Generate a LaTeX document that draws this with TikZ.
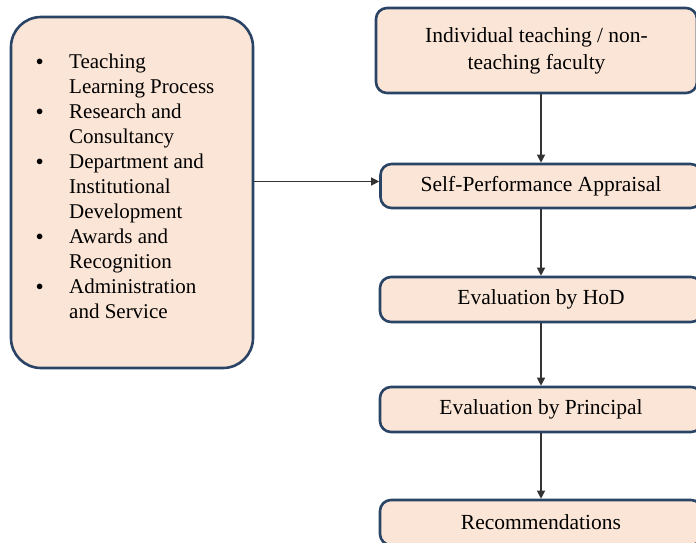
\documentclass[tikz,border=0pt]{standalone}
\usepackage{fontspec}
\setmainfont{Liberation Serif}
\usepackage{tikz}
\usetikzlibrary{arrows,arrows.meta}

\definecolor{boxfill}{RGB}{251,229,214}
\definecolor{boxline}{RGB}{42,68,102}

\begin{document}
\begin{tikzpicture}[x=1pt,y=-1pt,
box/.style={draw=boxline,fill=boxfill,line width=2.6pt,rounded corners=11pt,inner sep=0pt,font=\rmfamily\fontsize{21.5}{27}\selectfont,align=center},
bigbox/.style={box,rounded corners=30pt},
arrow/.style={-{Triangle[length=8pt,width=8pt]},line width=1.2pt,draw=black!80} ]

\useasboundingbox (0,0) rectangle (696,542);
\clip (0,0) rectangle (696,542);

\node[bigbox,minimum width=242pt,minimum height=351pt](list) at (132,192.5) {};

\node[anchor=base west,inner sep=0pt,font=\rmfamily\fontsize{21}{25}\selectfont](items) at (36,68)
{\begin{tabular}[t]{@{}p{33pt}@{}l@{}}
\raisebox{3pt}{\Large$\bullet$} & Teaching\\
 & Learning Process\\
\raisebox{3pt}{\Large$\bullet$} & Research and\\
 & Consultancy\\
\raisebox{3pt}{\Large$\bullet$} & Department and\\
 & Institutional\\
 & Development\\
\raisebox{3pt}{\Large$\bullet$} & Awards and\\
 & Recognition\\
\raisebox{3pt}{\Large$\bullet$} & Administration\\
 & and Service
\end{tabular}};

\node[box,minimum width=321pt,minimum height=85pt](faculty) at (536.5,50.5) {Individual teaching / non-\\teaching faculty};

\node[box,minimum width=321pt,minimum height=44pt](self) at (541,186) {Self-Performance Appraisal};

\node[box,minimum width=322pt,minimum height=45pt](hod) at (541,299.5) {Evaluation by HoD};

\node[box,minimum width=322pt,minimum height=45pt](principal) at (541,409.5) {Evaluation by Principal};

\node[box,minimum width=322pt,minimum height=45pt](recom) at (541,522.5) {Recommendations};

\draw[arrow] (faculty.south -| self.north) -- (self.north);

\draw[arrow] ([yshift=4.5pt]self.west -| list.east) -- ([yshift=4.5pt]self.west);

\draw[arrow] (self) -- (hod);

\draw[arrow] (hod) -- (principal);

\draw[arrow] (principal) -- (recom);
\end{tikzpicture}
\end{document}
